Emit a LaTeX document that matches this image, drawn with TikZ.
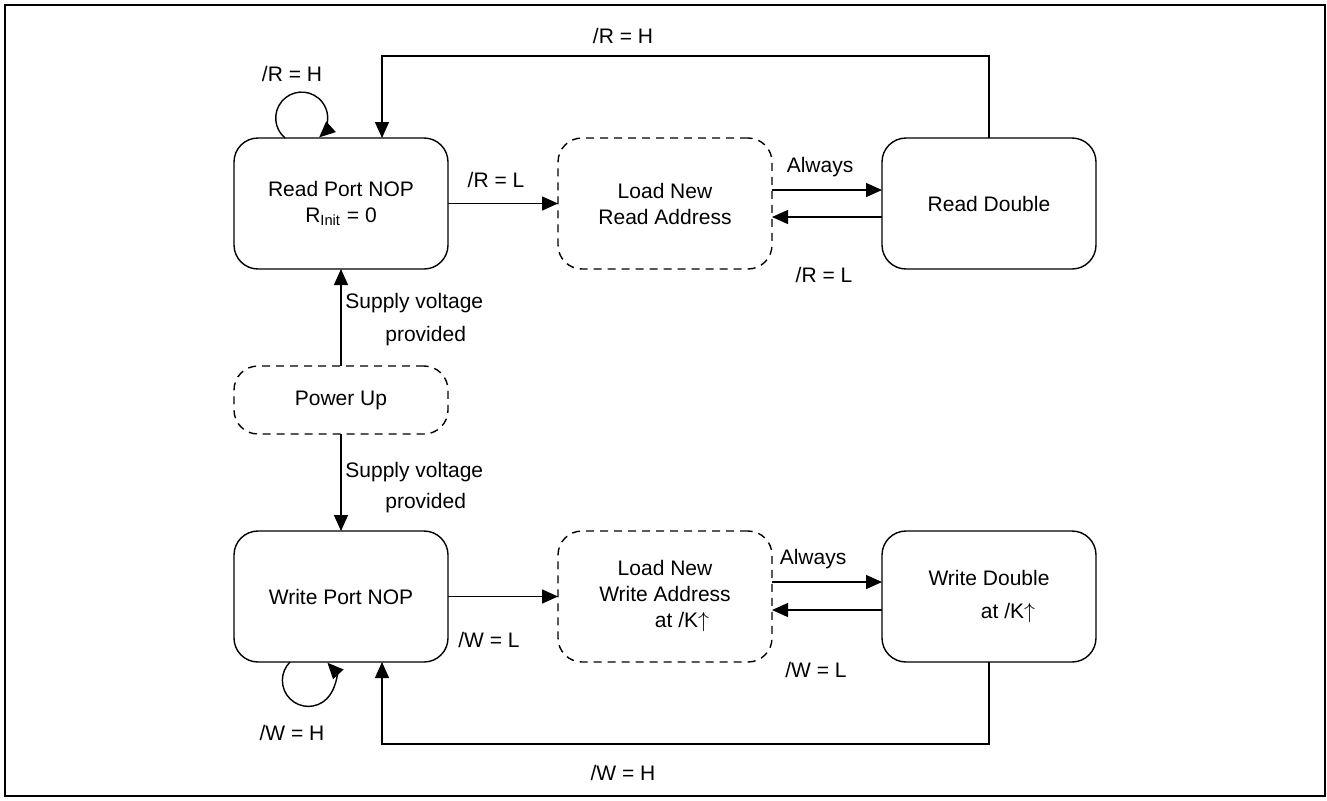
\documentclass[tikz,border=0pt]{standalone}
\usepackage{fontspec}
\setmainfont{Liberation Sans}
\usepackage{tikz}
\usetikzlibrary{arrows.meta}
\usetikzlibrary{positioning}

\tikzset{
  estado/.style={draw, rounded corners=12pt, line width=0.7pt, minimum width=107pt, minimum height=65.5pt, align=center, inner sep=0pt, outer sep=0pt},
  transit/.style={estado, dash pattern=on 4pt off 3pt},
  flecha/.style={-{Triangle[length=8pt,width=7pt]}, line width=0.7pt},
  etiq/.style={inner sep=0pt, align=center},
}

\begin{document}
\begin{tikzpicture}[x=0.5pt, y=-0.5pt, font=\fontsize{10.5}{13}\selectfont]
  \useasboundingbox (0,0) rectangle (1327,800);
  \draw[line width=1pt] (5,5) rectangle (1325,796);

  % Puerto de lectura
  \node[estado] (rnop) at (341,203.5) {Read Port NOP\\R\textsubscript{Init} = 0};
  \node[transit, right=55pt of rnop] (rload) {Load New\\Read Address};
  \node[estado, right=55pt of rload] (rdbl) {Read Double};

  % Encendido
  \node[transit, minimum height=34pt, below=48.5pt of rnop] (pwr) {Power Up};

  % Puerto de escritura
  \node[estado, below=48.5pt of pwr] (wnop) {Write Port NOP};
  \node[transit, right=55pt of wnop] (wload) {Load New\\Write Address\\\hspace*{17pt}at /K$\uparrow$};
  \node[estado, right=55pt of wload] (wdbl) {Write Double\\[3.5pt]\hspace*{19pt}at /K$\uparrow$};

  % Puntos de esquina
  \coordinate (rarriba) at (382,56);
  \coordinate (wabajo) at (382,744);

  % Conexiones (lectura)
  \draw[flecha] ([xshift=-28pt]rnop.north) arc[start angle=230, end angle=-48, radius=13pt];
  \draw[flecha] (rnop) -- (rload);
  \draw[flecha] ([yshift=6.75pt]rload.east) -- ([yshift=6.75pt]rdbl.west);
  \draw[flecha] ([yshift=-6.75pt]rdbl.west) -- ([yshift=-6.75pt]rload.east);
  \draw[flecha] (rdbl.north) |- (rarriba) -- (rarriba |- rnop.north);

  % Conexiones (encendido)
  \draw[flecha] (pwr) -- (rnop);
  \draw[flecha] (pwr) -- (wnop);

  % Conexiones (escritura)
  \draw[flecha] ([xshift=-25.5pt]wnop.south) arc[start angle=135, end angle=403, radius=13pt];
  \draw[flecha] (wnop) -- (wload);
  \draw[flecha] ([yshift=7.25pt]wload.east) -- ([yshift=7.25pt]wdbl.west);
  \draw[flecha] ([yshift=-6.75pt]wdbl.west) -- ([yshift=-6.75pt]wload.east);
  \draw[flecha] (wdbl.south) |- (wabajo) -- (wabajo |- wnop.south);

  % Etiquetas
  \node[etiq] (lrh1) at (292,74) {/R = H};
  \node[etiq] (lrh2) at (623,36) {/R = H};
  \node[etiq] (lrl1) at (496,180) {/R = L};
  \node[etiq] (lral) at (820,167) {Always};
  \node[etiq] (lrl2) at (824,275) {/R = L};
  \node[etiq, align=left, anchor=west] (lsup1) at (345,319.5) {Supply voltage\\[3.5pt]\hspace*{20pt}provided};
  \node[etiq, align=left, anchor=west] (lsup2) at (345,487.5) {Supply voltage\\[2.5pt]\hspace*{20pt}provided};
  \node[etiq] (lwl1) at (489,640) {/W = L};
  \node[etiq] (lwal) at (813,559) {Always};
  \node[etiq] (lwl2) at (816,670) {/W = L};
  \node[etiq] (lwh1) at (292,733) {/W = H};
  \node[etiq] (lwh2) at (623,773) {/W = H};
\end{tikzpicture}
\end{document}
